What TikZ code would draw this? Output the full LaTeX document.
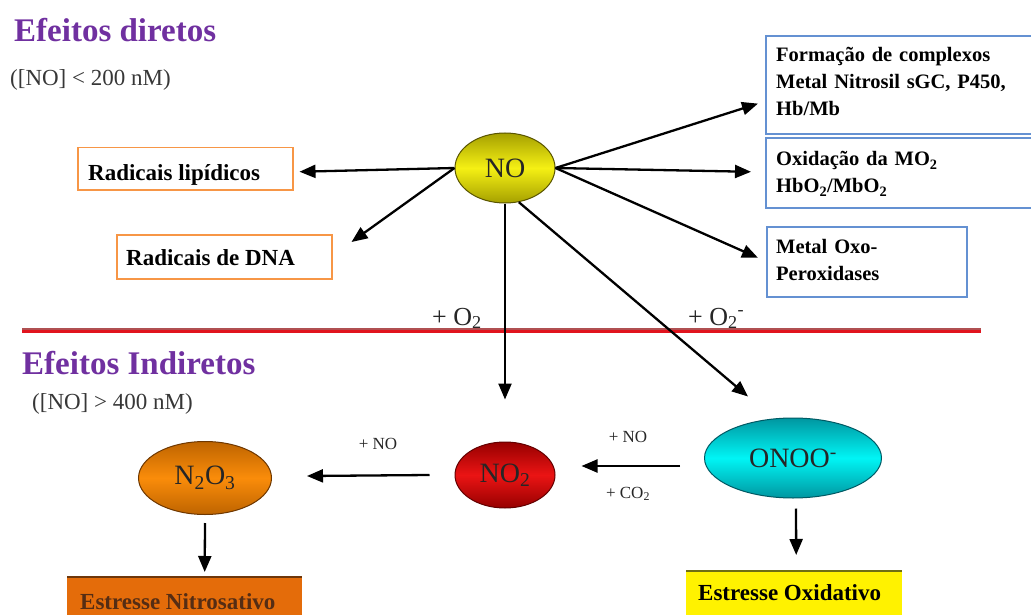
\documentclass[tikz,border=0pt]{standalone}
\usepackage{fontspec}
\setmainfont{Liberation Serif}
\usetikzlibrary{arrows.meta,calc,shapes.geometric}
\definecolor{ttl}{RGB}{112,48,160}
\definecolor{subgray}{RGB}{55,55,55}
\definecolor{boxorange}{RGB}{247,150,70}
\definecolor{boxblue}{RGB}{100,145,210}
\definecolor{nomid}{RGB}{245,240,20}
\definecolor{noedge}{RGB}{165,160,0}
\definecolor{noborder}{RGB}{90,85,0}
\definecolor{notwomid}{RGB}{235,20,20}
\definecolor{notwoedge}{RGB}{150,0,0}
\definecolor{notwoborder}{RGB}{100,0,0}
\definecolor{ntmid}{RGB}{250,140,10}
\definecolor{ntedge}{RGB}{190,100,0}
\definecolor{ntborder}{RGB}{110,55,0}
\definecolor{onmid}{RGB}{0,245,245}
\definecolor{onedge}{RGB}{0,150,160}
\definecolor{onborder}{RGB}{0,90,100}
\definecolor{redtop}{RGB}{176,80,82}
\definecolor{redbot}{RGB}{225,20,30}
\definecolor{nitfill}{RGB}{228,108,10}
\definecolor{nitline}{RGB}{110,55,10}
\definecolor{nittext}{RGB}{85,45,20}
\definecolor{oxline}{RGB}{110,110,20}
\begin{document}
\begin{tikzpicture}[x=1pt,y=-1pt,
  arr/.style={draw=black, line width=2.3pt, -{Triangle[length=16pt,width=13pt]}},
  obox/.style={draw=boxorange, line width=1.5pt, rectangle, inner sep=0pt, anchor=north west},
  bbox/.style={draw=boxblue, line width=1.6pt, rectangle, inner sep=0pt, anchor=north west},
  lbl/.style={anchor=base west, inner sep=0pt, font=\bfseries\fontsize{23}{27}\selectfont},
  rlbl/.style={anchor=base west, inner sep=0pt, text width=255pt, align=left, font=\bfseries\fontsize{20.5}{27}\selectfont},
  title/.style={anchor=base west, inner sep=0pt, text=ttl, font=\bfseries\fontsize{33}{36}\selectfont},
  subt/.style={anchor=base west, inner sep=0pt, text=subgray, font=\fontsize{23}{26}\selectfont},
  elly/.style={ellipse, inner sep=0pt, line width=1pt, font=\fontsize{28}{30}\selectfont, text=black!85},
  small/.style={inner sep=0pt, font=\fontsize{17}{19}\selectfont, text=black!85},
  big/.style={anchor=base west, inner sep=0pt, font=\fontsize{26}{28}\selectfont, text=black!85}
]
\useasboundingbox (0,0) rectangle (1031,615);

% titles
\node[title] (t1) at (14,42) {Efeitos diretos};
\node[subt] (s1) at (10,86) {([NO] < 200 nM)};
\node[title] (t2) at (22,374) {Efeitos Indiretos};
\node[subt] (s2) at (32,409) {([NO] > 400 nM)};

% separator
\draw[line width=2pt, redtop] (22,329) -- (981,329);
\draw[line width=2.6pt, redbot] (22,331.6) -- (981,331.6);

% NO ellipse
\node[elly, minimum width=100pt, minimum height=70pt, draw=noborder,
  top color=noedge, bottom color=noedge, middle color=nomid] (no) at (505,168) {NO};

% left boxes
\node[obox, minimum width=215pt, minimum height=42pt] (lip) at (77,147) {};
\node[lbl] (lipt) at (88,181) {Radicais lipídicos};
\node[obox, minimum width=215pt, minimum height=44pt] (dna) at (116,234) {};
\node[lbl] (dnat) at (126,265) {Radicais de DNA};

% right boxes
\node[bbox, minimum width=280pt, minimum height=98pt] (b1) at (765,35) {};
\node[rlbl] (b1t) at (776,62) {Formação de complexos\\Metal Nitrosil sGC, P450,\\Hb/Mb};
\node[bbox, minimum width=280pt, minimum height=70pt] (b2) at (765,137) {};
\node[rlbl] (b2t) at (776,166) {Oxidação da MO\textsubscript{2}\\HbO\textsubscript{2}/MbO\textsubscript{2}};
\node[bbox, minimum width=200pt, minimum height=70pt] (b3) at (766,226) {};
\node[rlbl] (b3t) at (776,253) {Metal Oxo-\\Peroxidases};

% arrows from NO
\draw[arr] (no.west) -- ($(lip.east)+(6,3)$);
\draw[arr] (no.west) -- ($(dna.north east)+(19,8)$);
\draw[arr] (no.east) -- ($(b1.south west)+(-7,-31)$);
\draw[arr] (no.east) -- ($(b2.west)+(-14,-1)$);
\draw[arr] (no.east) -- ($(b3.west)+(-8,-4)$);

% labels
\node[big] (po2) at (432,325) {+ O\textsubscript{2}};
\node[big] (po2m) at (688,325) {+ O\textsubscript{2}\textsuperscript{-}};

% lower ellipses
\node[elly, minimum width=100pt, minimum height=66pt, draw=notwoborder,
  top color=notwoedge, bottom color=notwoedge, middle color=notwomid] (no2) at (505,475) {NO\textsubscript{2}};
\node[elly, minimum width=133pt, minimum height=73pt, draw=ntborder,
  top color=ntedge, bottom color=ntedge, middle color=ntmid] (n2o3) at (205,478) {N\textsubscript{2}O\textsubscript{3}};
\node[elly, minimum width=177pt, minimum height=80pt, draw=onborder,
  top color=onedge, bottom color=onedge, middle color=onmid] (onoo) at (793,458) {ONOO\textsuperscript{-}};

% arrows into lower part
\draw[arr] (no.south) -- ($(no2.north)+(0,-42)$);
\draw[arr] (no.-68) -- ($(onoo.north)+(-45,-21)$);
\draw[arr] ($(onoo.west)+(-24,8)$) -- ($(no2.east)+(26,-9)$);
\draw[arr] ($(no2.west)+(-25,0)$) -- ($(n2o3.east)+(35,-2)$);
\node[small] (pno1) at (378,444) {+ NO};
\node[small] (pno2) at (628,437) {+ NO};
\node[small] (pco2) at (628,494) {+ CO\textsubscript{2}};

% bottom boxes
\node[anchor=north west, inner sep=0pt, minimum width=235pt, minimum height=45pt, fill=nitfill] (nit) at (67,577) {};
\draw[nitline, line width=2pt] (nit.north west) -- (nit.north east);
\node[lbl, text=nittext] (nitt) at (80,609) {Estresse Nitrosativo};
\node[anchor=north west, inner sep=0pt, minimum width=216pt, minimum height=50pt, fill=yellow] (ox) at (686,571) {};
\draw[oxline, line width=2pt] (ox.north west) -- (ox.north east);
\node[lbl] (oxt) at (698,600) {Estresse Oxidativo};

\draw[arr] ($(n2o3.south)+(0,8)$) -- ($(nit.north)+(20,-5)$);
\draw[arr] ($(onoo.south)+(3,10)$) -- ($(ox.north)+(2,-16)$);
\end{tikzpicture}
\end{document}
